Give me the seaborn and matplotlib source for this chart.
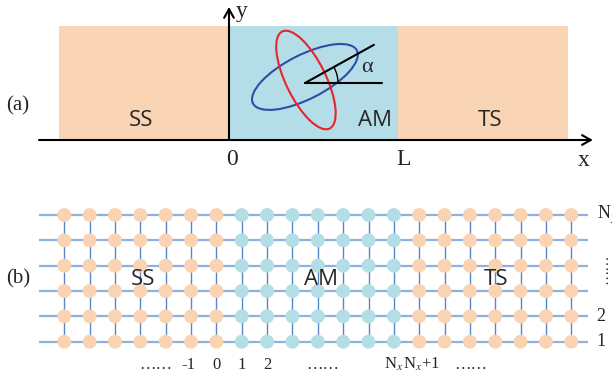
import numpy as np
import pandas as pd
import matplotlib
matplotlib.use('Agg')
import matplotlib.pyplot as plt
from matplotlib.patches import Ellipse, Arc
import seaborn as sns

# ---- data -------------------------------------------------------------
regions = ['SS', 'AM', 'TS']
region_edges = [-1.0, 0.0, 1.0, 2.0]        # x edges in units of L, panel (a)
region_height = 0.673                       # height of the slabs, units of L
sites_per_region = [7, 7, 7]                # lattice columns per region, panel (b)
n_rows = 6

# altermagnet ellipses: center x, center y, width, height, angle (deg)
ellipse_blue = [0.448, 0.372, 0.688, 0.26, 27]
ellipse_red = [0.454, 0.354, 0.637, 0.236, 116]
alpha_origin = [0.448, 0.336]
alpha_deg = 29

# tick-like labels under / beside the lattice
col_label_pos = [3.6, 4.9, 6, 7, 8, 10.2, 13, 14.1, 16.05]
col_label_txt = ['……', '-1', '0', '1', '2', '……', 'N$_x$', 'N$_x$+1', '……']
row_label_pos = [6, 2, 1]
row_label_txt = ['N$_y$', '2', '1']

# ---- style -------------------------------------------------------------
sns.set_style('white')
plt.rcParams['font.family'] = ['Liberation Serif', 'DejaVu Serif']
plt.rcParams['mathtext.fontset'] = 'stix'
SANS = 'Open Sans'
slab_colors = {'SS': '#F9D5B5', 'AM': '#B5DDE8', 'TS': '#F9D5B5'}
node_colors = {'SS': '#FAD3B2', 'AM': '#B3DEE6', 'TS': '#FAD3B2'}

fig = plt.figure(figsize=(6.12, 3.8), dpi=100)

# ---- panel (a) ---------------------------------------------------------
axa = fig.add_axes([0, 0.5263, 1, 0.4737])
axa.set_xlim(-1.351, 2.2596)
axa.set_ylim(-0.236, 0.826)
axa.axis('off')

for i, reg in enumerate(regions):
    axa.bar(region_edges[i], region_height, width=region_edges[i + 1] - region_edges[i],
            align='edge', color=slab_colors[reg], linewidth=0, zorder=1)

arrow = dict(arrowstyle='->,head_length=0.45,head_width=0.25', lw=1.5,
             color='black', mutation_scale=14, shrinkA=0, shrinkB=0)
axa.annotate('', xy=(2.147, 0), xytext=(-1.121, 0), arrowprops=arrow, zorder=5)
axa.annotate('', xy=(0, 0.785), xytext=(0, 0), arrowprops=arrow, zorder=5)

for e, col in [(ellipse_blue, '#2E4DA7'), (ellipse_red, '#E8232A')]:
    axa.add_patch(Ellipse((e[0], e[1]), e[2], e[3], angle=e[4], fill=False,
                          edgecolor=col, lw=1.5, zorder=3))

ox, oy = alpha_origin
rad = np.deg2rad(alpha_deg)
axa.plot([ox, 0.903], [oy, oy], color='black', lw=1.5, zorder=4)
axa.plot([ox, ox + 0.465 * np.cos(rad)], [oy, oy + 0.465 * np.sin(rad)],
         color='black', lw=1.5, zorder=4)
axa.add_patch(Arc((ox, oy), 0.39, 0.39, theta1=0, theta2=alpha_deg,
                  color='black', lw=1, zorder=4))
axa.text(0.814, 0.425, 'α', fontsize=16, ha='center', va='center')

axa.text(0.075, 0.76, 'y', fontsize=17, ha='center', va='center')
axa.text(2.094, -0.12, 'x', fontsize=17, ha='center', va='center')
axa.text(0.018, -0.115, '0', fontsize=17, ha='center', va='center')
axa.text(1.027, -0.115, 'L', fontsize=17, ha='center', va='center')
axa.text(-1.245, 0.2, '(a)', fontsize=15, ha='center', va='center')
for reg, xpos in zip(regions, [-0.516, 0.861, 1.54]):
    axa.text(xpos, 0.118, reg, fontsize=16, family=SANS, ha='center', va='center', zorder=6)

# ---- panel (b) ---------------------------------------------------------
axb = fig.add_axes([0, 0, 1, 0.5])

site_region = np.repeat(regions, sites_per_region)
n_cols = len(site_region)
cols, rows = np.meshgrid(np.arange(n_cols), np.arange(1, n_rows + 1))
nodes = pd.DataFrame({'col': cols.ravel(), 'row': rows.ravel(),
                      'region': np.tile(site_region, n_rows)})

axb.hlines(np.arange(1, n_rows + 1), -1, n_cols - 1 + 0.65, color='#8DB2E0', lw=1.6, zorder=1)
axb.vlines(np.arange(n_cols), 1, n_rows, color='#5A86C5', lw=1.0, zorder=1)
sns.scatterplot(data=nodes, x='col', y='row', hue='region', palette=node_colors,
                s=100, linewidth=0, legend=False, ax=axb, zorder=3)
axb.set_xlim(-2.536, 21.605)
axb.set_ylim(-0.511, 6.987)
axb.axis('off')

for reg, xpos in zip(regions, [3.1, 10.13, 17.03]):
    axb.text(xpos, 3.45, reg, fontsize=16, family=SANS, ha='center', va='center', zorder=6)
axb.text(-1.807, 3.47, '(b)', fontsize=15, ha='center', va='center')

for xpos, txt in zip(col_label_pos, col_label_txt):
    axb.text(xpos, 0.1, txt, fontsize=12, ha='center', va='center')
for ypos, txt in zip(row_label_pos, row_label_txt):
    axb.text(21.0, ypos, txt, fontsize=13, ha='left', va='center')
axb.text(21.28, 3.87, '……', fontsize=11, rotation=90, ha='center', va='center')

fig.savefig('out.png', dpi=100)
